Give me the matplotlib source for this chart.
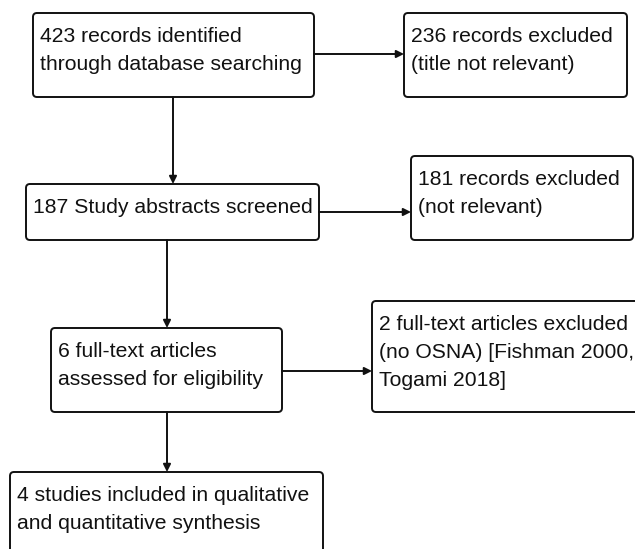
import matplotlib.pyplot as plt
from matplotlib.patches import FancyBboxPatch

plt.rcParams["font.family"] = ["Liberation Sans", "DejaVu Sans"]

# flow diagram content
counts = [423, 236, 187, 181, 6, 2, 4]
box_texts = [
    ["{} records identified", "through database searching"],
    ["{} records excluded", "(title not relevant)"],
    ["{} Study abstracts screened"],
    ["{} records excluded", "(not relevant)"],
    ["{} full-text articles", "assessed for eligibility"],
    ["{} full-text articles excluded", "(no OSNA) [Fishman 2000,", "Togami 2018]"],
    ["{} studies included in qualitative", "and quantitative synthesis"],
]

# layout in pixels: left, top, right, bottom
boxes = [
    (33, 13, 314, 97),
    (404, 13, 627, 97),
    (26, 184, 319, 240),
    (411, 156, 633, 240),
    (51, 328, 282, 412),
    (372, 301, 645, 412),
    (10, 472, 323, 560),
]

# arrows: (x0, y0, x1, y1)
arrows = [
    (314, 54, 404, 54),
    (173, 97, 173, 184),
    (319, 212, 411, 212),
    (167, 240, 167, 328),
    (282, 371, 372, 371),
    (167, 412, 167, 472),
]

fig = plt.figure(figsize=(6.35, 5.49), dpi=100)
ax = fig.add_axes([0, 0, 1, 1])
ax.set_xlim(0, 635)
ax.set_ylim(549, 0)
ax.axis("off")

ink = "#111111"
for (l, t, r, b), n, lines in zip(boxes, counts, box_texts):
    ax.add_patch(FancyBboxPatch((l, t), r - l, b - t,
                                boxstyle="round,pad=0,rounding_size=4",
                                fc="white", ec=ink, lw=1.4))
    for i, line in enumerate(lines):
        txt = line.format(n) if i == 0 else line
        ax.text(l + 7, t + 29 + i * 28, txt, fontsize=15.2, color=ink,
                ha="left", va="baseline")

for x0, y0, x1, y1 in arrows:
    ax.annotate("", xy=(x1, y1), xytext=(x0, y0),
                arrowprops=dict(arrowstyle="-|>", color=ink, lw=1.4,
                                mutation_scale=11, shrinkA=0, shrinkB=0))

fig.savefig("out.png", dpi=100)
